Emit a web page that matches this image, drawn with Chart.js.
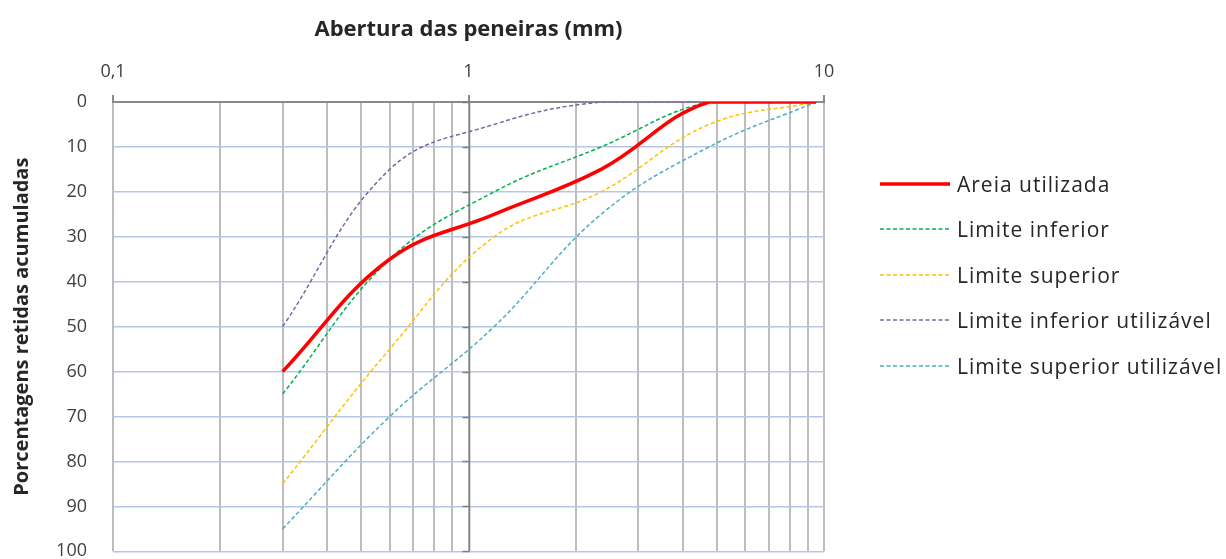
<!DOCTYPE html>
<html>
<head>
<meta charset="utf-8">
<script src="https://cdn.jsdelivr.net/npm/chart.js@4.4.1/dist/chart.umd.min.js"></script>
<style>
  body { margin: 0; background: #fff; }
  #wrap { position: relative; width: 1226px; height: 559px; }
  #legend {
    position: absolute; left: 880px; top: 161px;
    font-family: "Open Sans", sans-serif; font-size: 21px; letter-spacing: 1px; color: #262626;
  }
  #legend .item { display: flex; align-items: center; height: 45.5px; white-space: nowrap; }
  #legend svg { margin-right: 7px; }
</style>
</head>
<body>
<div id="wrap">
  <canvas id="chart" width="1226" height="559"></canvas>
  <div id="legend"></div>
</div>
<script>
// ================= DATA =================
const sieves = [0.3, 0.6, 1.18, 2.36, 4.75, 9.5];   // abertura (mm)
const areiaUtilizada   = [60, 35, 25, 15, 0, 0];
const limiteInferior   = [65, 35, 20, 10, 0, 0];
const limiteSuperior   = [85, 55, 30, 20, 5, 0];
const limiteInfUtil    = [50, 15, 5, 0, 0, 0];
const limiteSupUtil    = [95, 70, 50, 25, 10, 0];

const xMajorTicks = [0.1, 1, 10];
const xTickLabels = ["0,1", "1", "10"];
const xGridValues = [0.1, 0.2, 0.3, 0.4, 0.5, 0.6, 0.7, 0.8, 0.9,
                     1, 2, 3, 4, 5, 6, 7, 8, 9, 10];
const yCrossAt = 1;   // vertical axis crosses the log axis at 1 mm

const AXIS_GRAY = "#8a8a8a";
const GRID_GRAY = "#bdbdbd";
const GRID_BLUE = "#b4c7e7";

const toPoints = arr => sieves.map((x, i) => ({ x, y: arr[i] }));

const dashed = (label, color, arr) => ({
  label,
  data: toPoints(arr),
  borderColor: color,
  borderWidth: 1.5,
  borderDash: [4, 2.5],
  pointRadius: 0,
  tension: 0.4,
  fill: false
});

Chart.defaults.font.family = "'Open Sans', sans-serif";

// ================= HTML LEGEND =================
const htmlLegend = {
  id: "htmlLegend",
  afterUpdate(chart) {
    const box = document.getElementById("legend");
    box.innerHTML = "";
    chart.data.datasets.forEach(ds => {
      const row = document.createElement("div");
      row.className = "item";
      const dash = ds.borderDash ? ds.borderDash.join(",") : "none";
      row.innerHTML =
        `<svg width="70" height="6"><line x1="0" y1="3" x2="70" y2="3" stroke="${ds.borderColor}"` +
        ` stroke-width="${ds.borderWidth}" stroke-dasharray="${dash}"/></svg>` +
        `<span>${ds.label}</span>`;
      box.appendChild(row);
    });
  }
};

// ---- vertical axis line crossing at x = 1, with its tick marks ----
const crossAxis = {
  id: "crossAxis",
  beforeDatasetsDraw(chart) {
    const { ctx, chartArea, scales } = chart;
    const px = Math.round(scales.x.getPixelForValue(yCrossAt)) + 0.5;
    ctx.save();
    ctx.strokeStyle = "#7f7f7f";
    ctx.lineWidth = 1.5;
    ctx.beginPath();
    ctx.moveTo(px, chartArea.top);
    ctx.lineTo(px, chartArea.bottom);
    scales.y.ticks.forEach(t => {
      const py = Math.round(scales.y.getPixelForValue(t.value)) + 0.5;
      ctx.moveTo(px - 7, py);
      ctx.lineTo(px, py);
    });
    ctx.stroke();
    ctx.restore();
  }
};

// ================= CHART =================
new Chart(document.getElementById("chart"), {
  type: "line",
  data: {
    datasets: [
      {
        label: "Areia utilizada",
        data: toPoints(areiaUtilizada),
        borderColor: "#ff0000",
        borderWidth: 3.5,
        pointRadius: 0,
        tension: 0.4,
        fill: false
      },
      dashed("Limite inferior", "#00b050", limiteInferior),
      dashed("Limite superior", "#ffc000", limiteSuperior),
      dashed("Limite inferior utilizável", "#8064a2", limiteInfUtil),
      dashed("Limite superior utilizável", "#4bacc6", limiteSupUtil)
    ]
  },
  options: {
    responsive: false,
    animation: false,
    layout: { padding: { left: 0, top: 0, right: 402, bottom: 0 } },
    plugins: {
      legend: { display: false },
      tooltip: { enabled: false }
    },
    scales: {
      x: {
        type: "logarithmic",
        position: "top",
        min: 0.1,
        max: 10,
        afterBuildTicks: s => {
          s.ticks = xGridValues.map(v => ({ value: v, major: xMajorTicks.includes(v) }));
        },
        afterFit: s => { s.height = 102; },
        ticks: {
          autoSkip: false,
          maxRotation: 0,
          padding: 12,
          color: "#404040",
          font: { size: 18 },
          callback: v => {
            const i = xMajorTicks.indexOf(v);
            return i >= 0 ? xTickLabels[i] : "";
          }
        },
        grid: {
          color: GRID_GRAY,
          lineWidth: 2,
          tickLength: 7,
          tickColor: c => (c.tick && xMajorTicks.includes(c.tick.value)) ? AXIS_GRAY : "rgba(0,0,0,0)"
        },
        border: { color: AXIS_GRAY, width: 2 },
        title: {
          display: true,
          text: "Abertura das peneiras (mm)",
          color: "#262626",
          font: { size: 22, weight: "bold" },
          padding: { top: 17, bottom: 0 }
        }
      },
      y: {
        position: "left",
        reverse: true,
        min: 0,
        max: 100,
        afterFit: s => { s.width = 113; },
        ticks: {
          stepSize: 10,
          padding: 0,
          color: "#404040",
          font: { size: 18, lineHeight: 0.85 }
        },
        grid: {
          color: c => c.tick.value === 0 ? "rgba(0,0,0,0)" : GRID_BLUE,
          lineWidth: 1.5,
          drawTicks: true,
          tickLength: 26,
          tickColor: "rgba(0,0,0,0)"
        },
        border: { display: false },
        title: {
          display: true,
          text: "Porcentagens retidas acumuladas",
          color: "#262626",
          font: { size: 20, weight: "bold" },
          padding: { top: 10, bottom: 0 }
        }
      }
    }
  },
  plugins: [htmlLegend, crossAxis]
});
</script>
</body>
</html>
